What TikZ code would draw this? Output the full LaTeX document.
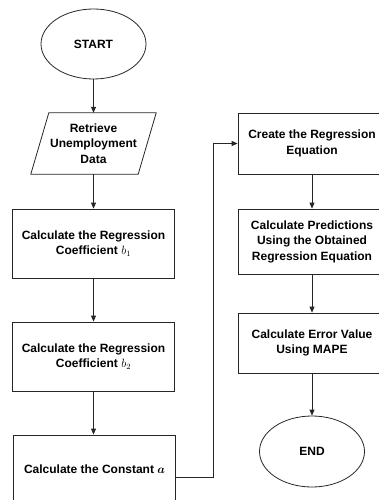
\documentclass[tikz,border=0pt]{standalone}
\usepackage{fontspec}
\usepackage{bm}
\setmainfont{Liberation Sans}
\usetikzlibrary{shapes.geometric,arrows.meta}

\begin{document}
\begin{tikzpicture}[x=1pt,y=-1pt,
  every node/.style={font=\fontsize{12}{15.5}\selectfont\bfseries, align=center, inner sep=0pt},
  edge/.style={draw=black!85, line width=0.8pt},
  flow/.style={edge, -{Triangle[length=6pt,width=5pt]}},
  terminal/.style={ellipse, edge, minimum width=105pt, minimum height=70pt},
  process/.style={rectangle, edge, minimum width=162pt, minimum height=69pt},
  rprocess/.style={rectangle, edge, minimum width=148pt},
  io/.style={rectangle, minimum width=107pt, minimum height=61pt}
]
\useasboundingbox (0,0) rectangle (379,500);
\clip (0,0) rectangle (379,500);

% left column
\node[terminal] (start) at (93.5,44) {START};
\node[io] (data) at (93.5,143.5) {Retrieve\\Unemployment\\Data};
\draw[edge] ([xshift=9pt]data.north west) -- ([xshift=9pt]data.north east)
  -- ([xshift=-9pt]data.south east) -- ([xshift=-9pt]data.south west) -- cycle;
\node[process] (bone) at (93.5,243.5) {Calculate the Regression\\Coefficient $b_1$};
\node[process] (btwo) at (93.5,356.5) {Calculate the Regression\\Coefficient $b_2$};
\node[process] (const) at (94.5,469.5) {Calculate the Constant $\bm{a}$};

% right column
\node[rprocess, minimum height=61pt] (eq) at (312,143.5) {Create the Regression\\Equation};
\node[rprocess, minimum height=65pt] (pred) at (312,241.5) {Calculate Predictions\\Using the Obtained\\Regression Equation};
\node[rprocess, minimum height=60pt] (err) at (312,343) {Calculate Error Value\\Using MAPE};
\node[terminal, minimum height=71pt] (finish) at (312,451.5) {END};

% connectors
\draw[flow] (start) -- (data.north -| start.south);
\draw[flow] (data) -- (bone);
\draw[flow] (bone) -- (btwo);
\draw[flow] (btwo.south) -- (btwo.south |- const.north);
\coordinate (turn) at (213,477);
\draw[flow] (const.east |- turn) -- (turn) |- (eq.west);
\draw[flow] (eq) -- (pred);
\draw[flow] (pred) -- (err);
\draw[flow] (err) -- (finish);
\end{tikzpicture}
\end{document}
